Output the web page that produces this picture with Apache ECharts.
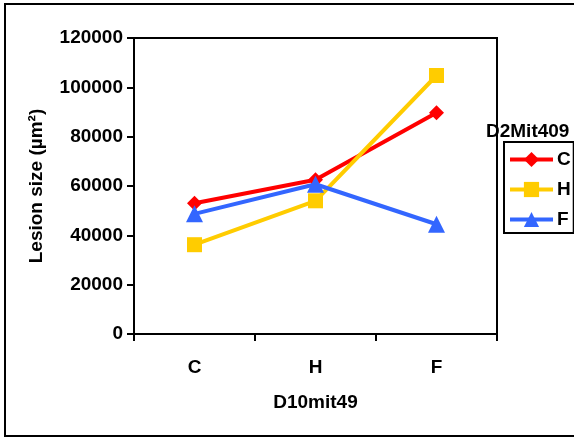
<!DOCTYPE html>
<html>
<head>
<meta charset="utf-8">
<script src="https://cdn.jsdelivr.net/npm/echarts@6/dist/echarts.min.js"></script>
<style>
html,body{margin:0;padding:0;background:#fff;}
#chart{width:574px;height:438px;}
</style>
</head>
<body>
<div id="chart"></div>
<script>
var categories = ['C', 'H', 'F'];
var seriesNames = ['C', 'H', 'F'];
var valuesC = [53000, 62500, 89700];
var valuesH = [36200, 54000, 104800];
var valuesF = [48700, 60700, 44500];
var yTicks = [0, 20000, 40000, 60000, 80000, 100000, 120000];

var FONT = '"Liberation Sans", Arial, sans-serif';
var chart = echarts.init(document.getElementById('chart'));
var txt = {fontFamily: FONT, fontWeight: 'bold', color: '#000', fontSize: 19};

chart.setOption({
  animation: false,
  backgroundColor: '#fff',
  title: {
    text: 'D2Mit409',
    left: 486, top: 121, padding: 0,
    textStyle: {fontFamily: FONT, fontWeight: 'bold', color: '#000', fontSize: 19, lineHeight: 22}
  },
  graphic: [{
    type: 'rect', silent: true,
    shape: {x: 5, y: 4, width: 600, height: 432},
    style: {fill: null, stroke: '#000', lineWidth: 2}
  }],
  legend: {
    orient: 'vertical',
    left: 504, top: 142,
    data: seriesNames,
    itemWidth: 43, itemHeight: 19, itemGap: 11,
    borderColor: '#000', borderWidth: 2, borderRadius: 0,
    padding: [8, 3, 4, 4],
    lineStyle: {width: 4},
    textStyle: {fontFamily: FONT, fontWeight: 'bold', color: '#000', fontSize: 19, lineHeight: 19, padding: [0, 0, 0, -1]}
  },
  grid: {
    left: 134, right: 77, top: 38, bottom: 104,
    show: true, borderColor: '#000', borderWidth: 2,
    containLabel: false
  },
  xAxis: {
    type: 'category',
    data: categories,
    boundaryGap: true,
    name: 'D10mit49',
    nameLocation: 'middle',
    nameGap: 59,
    nameTextStyle: txt,
    axisLine: {lineStyle: {color: '#000', width: 2}},
    axisTick: {show: true, inside: false, length: 7, lineStyle: {color: '#000', width: 2}},
    axisLabel: Object.assign({margin: 24}, txt),
    splitLine: {show: false}
  },
  yAxis: {
    type: 'value',
    min: 0, max: 120000, interval: 20000,
    name: 'Lesion size (µm²)',
    nameLocation: 'middle',
    nameGap: 88,
    nameRotate: 90,
    nameTextStyle: txt,
    axisLine: {show: true, lineStyle: {color: '#000', width: 2}},
    axisTick: {show: true, inside: false, length: 7, lineStyle: {color: '#000', width: 2}},
    axisLabel: Object.assign({margin: 11, formatter: function (v) { return yTicks.indexOf(v) >= 0 ? String(v) : ''; }}, txt),
    splitLine: {show: false}
  },
  series: [
    {name: 'C', type: 'line', data: valuesC, color: '#FF0000', symbol: 'diamond', symbolSize: 15,
     lineStyle: {width: 4, color: '#FF0000'}, itemStyle: {color: '#FF0000'}},
    {name: 'H', type: 'line', data: valuesH, color: '#FFCC00', symbol: 'rect', symbolSize: 15,
     lineStyle: {width: 4, color: '#FFCC00'}, itemStyle: {color: '#FFCC00'}},
    {name: 'F', type: 'line', data: valuesF, color: '#3366FF', symbol: 'triangle', symbolSize: 17,
     lineStyle: {width: 4, color: '#3366FF'}, itemStyle: {color: '#3366FF'}}
  ]
});
</script>
</body>
</html>
